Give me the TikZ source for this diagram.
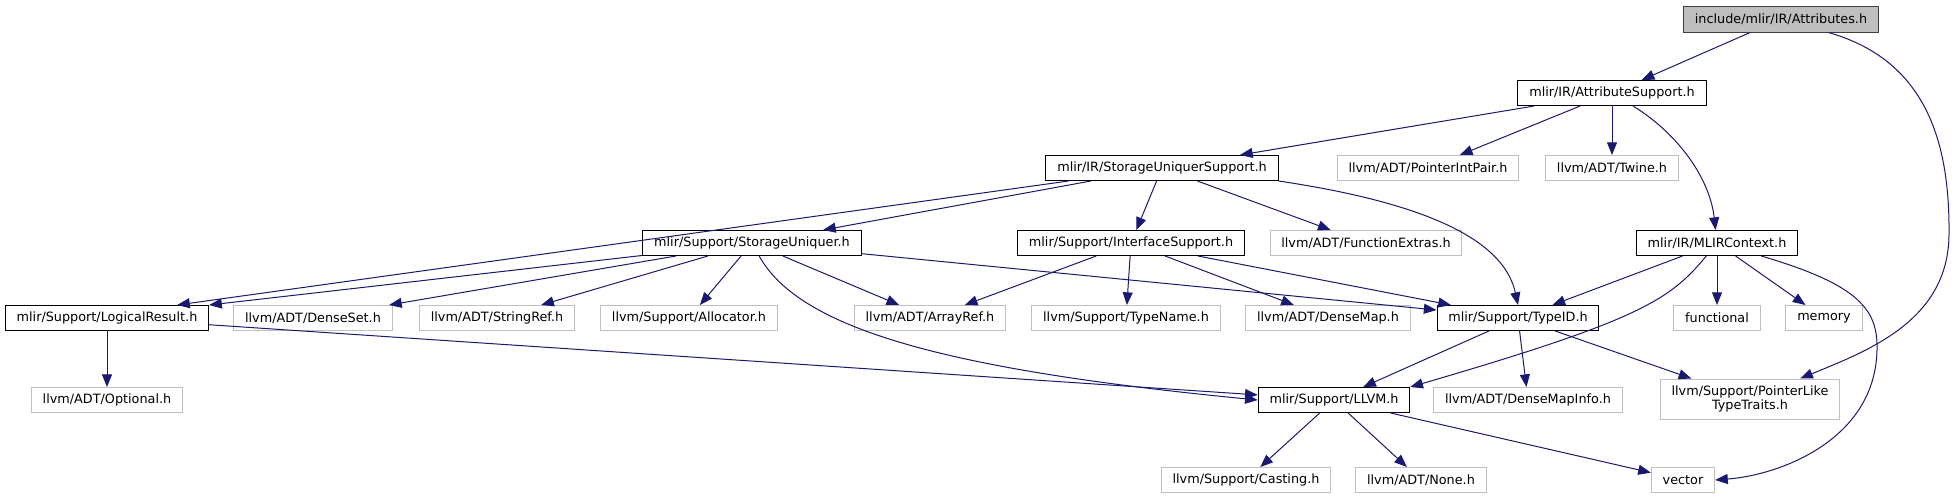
\documentclass[tikz,border=0pt]{standalone}
\usepackage{fontspec}
\setmainfont{DejaVu Sans}
\usepackage{tikz}
\usetikzlibrary{arrows.meta}
\usepackage{xcolor}
\definecolor{edgeblue}{RGB}{25, 25, 112}
\definecolor{extgray}{RGB}{191, 191, 191}
\definecolor{rootgray}{RGB}{191, 191, 191}

\tikzset{
  hdr/.style={draw=black, fill=white, line width=0.75pt, inner xsep=8.5pt, inner ysep=0pt, minimum height=18.75pt},
  exthdr/.style={hdr, draw=extgray},
  roothdr/.style={hdr, draw=black!75, fill=rootgray, minimum height=19.5pt},
  dep/.style={->, edgeblue, line width=0.75pt}
}

\begin{document}
\begin{tikzpicture}[x=0.75pt, y=-0.75pt, font=\fontsize{9.6}{11}\selectfont, >={Stealth[inset=0pt, length=9.5pt, width=7.5pt]}]
  \useasboundingbox (0,0) rectangle (1957,500);

  % rank 0-2
  \node[roothdr] (attr) at (1781,19) {include/mlir/IR/Attributes.h};
  \node[hdr] (attrsup) at (1612,93) {mlir/IR/AttributeSupport.h};
  \node[hdr] (sus) at (1162,168) {mlir/IR/StorageUniquerSupport.h};
  \node[exthdr] (pip) at (1428,168) {llvm/ADT/PointerIntPair.h};
  \node[exthdr] (twine) at (1612,168) {llvm/ADT/Twine.h};

  % rank 3
  \node[hdr] (su) at (752,243) {mlir/Support/StorageUniquer.h};
  \node[hdr] (ifs) at (1131,243) {mlir/Support/InterfaceSupport.h};
  \node[exthdr] (fext) at (1366,243) {llvm/ADT/FunctionExtras.h};
  \node[hdr] (ctx) at (1717,243) {mlir/IR/MLIRContext.h};

  % rank 4
  \node[hdr] (lres) at (107,318) {mlir/Support/LogicalResult.h};
  \node[exthdr] (dset) at (313,318) {llvm/ADT/DenseSet.h};
  \node[exthdr] (sref) at (497,318) {llvm/ADT/StringRef.h};
  \node[exthdr] (alloc) at (689,318) {llvm/Support/Allocator.h};
  \node[exthdr] (aref) at (930,318) {llvm/ADT/ArrayRef.h};
  \node[exthdr] (tname) at (1126,318) {llvm/Support/TypeName.h};
  \node[exthdr] (dmap) at (1328,318) {llvm/ADT/DenseMap.h};
  \node[hdr] (tid) at (1518,318) {mlir/Support/TypeID.h};
  \node[exthdr] (func) at (1717,318) {functional};
  \node[exthdr] (mem) at (1824,318) {memory};

  % rank 5-6
  \node[exthdr] (opt) at (107,400) {llvm/ADT/Optional.h};
  \node[hdr] (llvm) at (1334,400) {mlir/Support/LLVM.h};
  \node[exthdr] (dmi) at (1528,400) {llvm/ADT/DenseMapInfo.h};
  \node[exthdr, align=center, minimum height=30pt] (plt) at (1750,399) {llvm/Support/PointerLike\\TypeTraits.h};
  \node[exthdr] (cast) at (1246,480) {llvm/Support/Casting.h};
  \node[exthdr] (none) at (1421,480) {llvm/ADT/None.h};
  \node[exthdr] (vec) at (1683,480) {vector};

  \coordinate (rside) at (1949,235);
  \coordinate (vside) at (1877,350);

  \draw[dep] (attr) -- (attrsup);
  \draw[dep] (attr) .. controls (1925,60) and (1950,140) .. (rside)
    .. controls (1948,320) and (1870,350) .. (plt);
  \draw[dep] (attrsup) -- (sus);
  \draw[dep] (attrsup) -- (pip);
  \draw[dep] (attrsup) -- (twine);
  \draw[dep] (attrsup) .. controls (1680,135) and (1710,180) .. (ctx);

  \draw[dep] (sus) -- ([xshift=-24pt]lres.north east);
  \draw[dep] (sus) -- (su);
  \draw[dep] (sus) -- (ifs);
  \draw[dep] (sus) -- (fext);
  \draw[dep] (sus.south east) .. controls (1440,205) and (1505,245) .. (tid.north);

  \draw[dep] (su) -- (lres.north east);
  \draw[dep] (su) -- (dset);
  \draw[dep] (su) -- (sref);
  \draw[dep] (su) -- (alloc);
  \draw[dep] (su) -- (aref);
  \draw[dep] (su) .. controls (800,330) and (950,370) .. (llvm.west);
  \draw[dep] (su) -- (tid);

  \draw[dep] (ifs) -- (aref);
  \draw[dep] (ifs) -- (tname);
  \draw[dep] (ifs) -- (dmap);
  \draw[dep] (ifs) -- (tid);

  \draw[dep] (ctx) -- (tid);
  \draw[dep] (ctx) .. controls (1670,300) and (1640,320) .. (llvm.north east);
  \draw[dep] (ctx) -- (func);
  \draw[dep] (ctx) -- (mem);
  \draw[dep] (ctx) .. controls (1860,285) and (1878,310) .. (vside)
    .. controls (1875,440) and (1780,475) .. (vec.east);

  \draw[dep] (lres) -- (opt);
  \draw[dep] (lres) -- (llvm);
  \draw[dep] (tid) -- (llvm);
  \draw[dep] (tid) -- (dmi);
  \draw[dep] (tid) -- (plt);

  \draw[dep] (llvm) -- (cast);
  \draw[dep] (llvm) -- (none);
  \draw[dep] (llvm) -- (vec);
\end{tikzpicture}
\end{document}
